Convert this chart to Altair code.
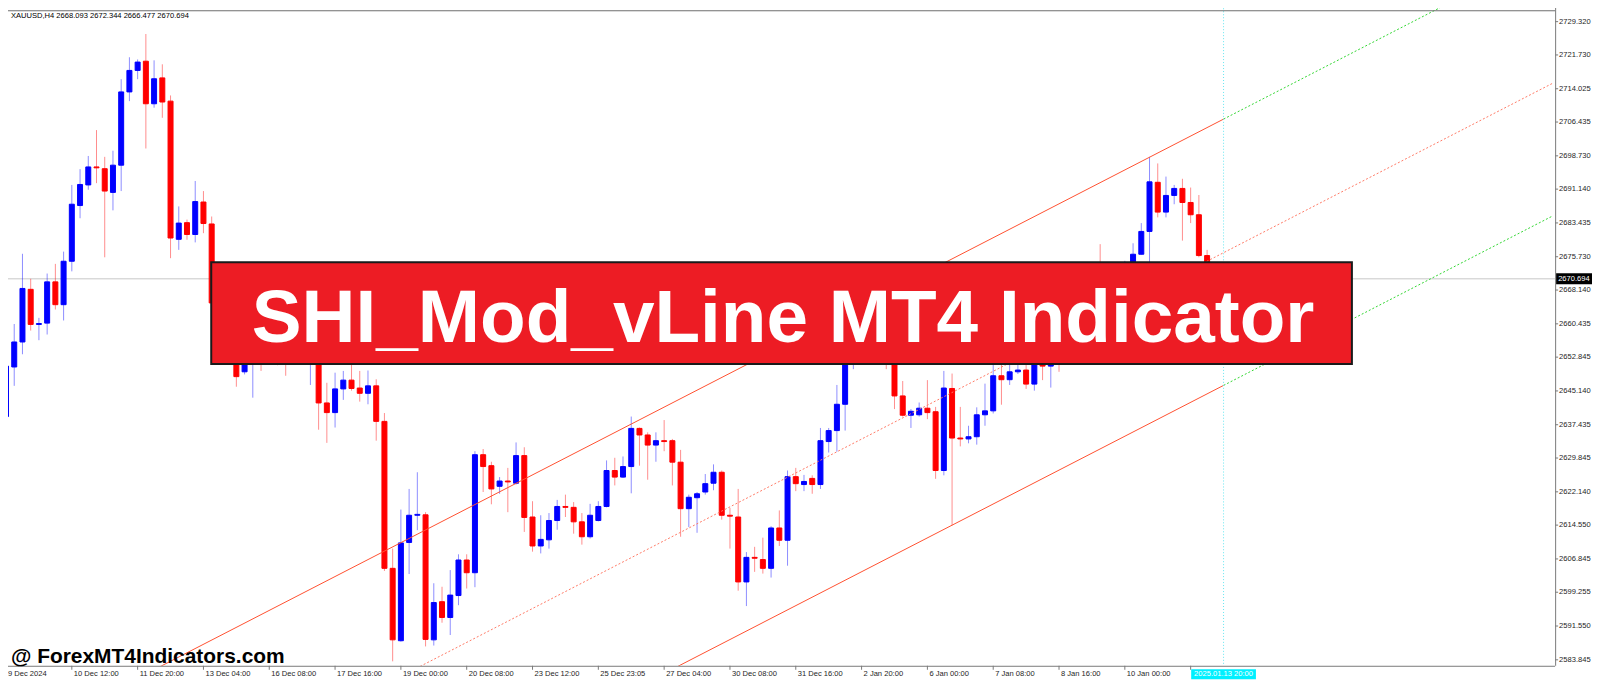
import altair as alt
import pandas as pd

# ---------------- data ----------------
opens = [2639.3, 2650.6, 2656.3, 2668.3, 2660.3, 2660.6, 2670.0, 2664.8, 2674.7, 2687.4,
         2692.1, 2696.2, 2695.8, 2690.4, 2696.6, 2713.3, 2718.2, 2720.3, 2710.6, 2716.5,
         2711.2, 2679.7, 2683.5, 2680.8, 2688.2, 2683.2, 2665.2, 2660.0, 2655.5, 2649.5,
         2653.5, 2657.0, 2654.0, 2656.5, 2655.0, 2653.0, 2656.0, 2654.5, 2657.0, 2642.4,
         2640.2, 2645.6, 2647.6, 2645.8, 2644.6, 2646.3, 2638.2, 2604.7, 2588.2, 2610.6,
         2616.8, 2616.9, 2588.4, 2597.1, 2593.5, 2598.5, 2606.6, 2603.7, 2630.6, 2628.1,
         2623.4, 2624.6, 2624.1, 2630.4, 2616.4, 2609.8, 2611.2, 2615.6, 2618.8, 2618.6,
         2615.3, 2611.9, 2615.6, 2618.8, 2627.0, 2625.5, 2627.9, 2636.6, 2635.1, 2632.8,
         2633.8, 2633.8, 2628.9, 2618.3, 2620.8, 2622.1, 2624.1, 2626.6, 2616.8, 2616.4,
         2601.6, 2607.2, 2606.7, 2604.7, 2613.9, 2611.1, 2625.6, 2623.8, 2625.2, 2623.8,
         2633.6, 2636.1, 2642.1, 2656.0, 2660.5, 2658.0, 2663.5, 2661.0, 2656.5, 2644.0,
         2639.6, 2639.7, 2641.2, 2640.4, 2627.0, 2645.7, 2634.4, 2634.2, 2634.7, 2639.7,
         2640.6, 2648.6, 2647.7, 2649.5, 2649.9, 2646.7, 2654.5, 2650.8, 2656.0, 2653.0,
         2658.5, 2662.0, 2659.0, 2664.0, 2661.0, 2665.0, 2668.5, 2672.0, 2676.3, 2681.5,
         2692.7, 2685.9, 2689.7, 2691.3, 2688.1, 2685.3, 2676.0, 2668.093]
highs = [2652.0, 2660.4, 2676.4, 2670.7, 2661.8, 2671.9, 2674.1, 2676.9, 2692.1, 2695.7,
         2698.7, 2704.6, 2698.5, 2699.9, 2716.2, 2721.2, 2720.7, 2726.5, 2720.5, 2719.6,
         2712.5, 2687.2, 2684.2, 2693.0, 2690.7, 2684.9, 2667.0, 2662.0, 2657.0, 2656.0,
         2659.5, 2660.0, 2658.0, 2660.0, 2657.0, 2658.0, 2658.5, 2660.0, 2659.0, 2647.0,
         2649.3, 2649.7, 2651.3, 2649.7, 2649.8, 2647.8, 2640.1, 2609.2, 2618.1, 2622.8,
         2626.6, 2617.5, 2601.3, 2600.5, 2604.3, 2607.9, 2607.9, 2631.4, 2631.9, 2629.0,
         2625.5, 2627.6, 2633.4, 2632.3, 2620.0, 2616.8, 2617.3, 2620.3, 2621.5, 2619.8,
         2617.3, 2619.4, 2620.0, 2629.3, 2629.9, 2630.2, 2639.3, 2636.8, 2635.7, 2635.7,
         2638.5, 2634.2, 2631.7, 2621.5, 2622.1, 2626.2, 2628.4, 2627.0, 2618.5, 2622.8,
         2608.4, 2609.6, 2611.7, 2614.3, 2617.9, 2627.0, 2627.6, 2626.0, 2625.9, 2636.7,
         2636.7, 2646.5, 2658.5, 2663.0, 2664.5, 2666.0, 2667.5, 2663.0, 2658.0, 2647.4,
         2641.0, 2642.5, 2647.6, 2641.5, 2649.7, 2649.1, 2641.5, 2637.2, 2641.4, 2646.8,
         2652.0, 2652.3, 2652.0, 2651.8, 2652.2, 2656.5, 2657.0, 2658.0, 2659.0, 2661.0,
         2664.5, 2665.0, 2667.0, 2678.6, 2668.0, 2671.0, 2674.8, 2678.8, 2683.4, 2698.5,
         2697.0, 2694.0, 2692.1, 2693.5, 2691.5, 2689.8, 2677.3, 2672.344]
lows = [2637.5, 2646.3, 2653.5, 2658.9, 2656.7, 2658.0, 2663.7, 2661.2, 2672.4, 2684.5,
        2691.0, 2692.5, 2675.6, 2686.3, 2690.7, 2711.2, 2716.2, 2700.4, 2709.7, 2707.4,
        2675.4, 2677.3, 2679.6, 2679.0, 2681.1, 2664.5, 2658.0, 2653.0, 2646.1, 2648.9,
        2643.6, 2649.7, 2652.5, 2651.0, 2648.6, 2652.0, 2652.5, 2646.5, 2636.3, 2633.3,
        2636.8, 2643.1, 2645.2, 2642.7, 2642.1, 2633.8, 2604.1, 2583.5, 2588.0, 2603.4,
        2613.4, 2586.9, 2587.1, 2592.3, 2589.5, 2596.3, 2600.1, 2600.4, 2622.1, 2619.3,
        2621.7, 2617.5, 2623.8, 2613.0, 2608.5, 2608.1, 2609.2, 2613.5, 2616.4, 2612.6,
        2610.1, 2611.5, 2615.4, 2618.6, 2623.6, 2625.3, 2621.8, 2628.1, 2624.9, 2629.0,
        2631.4, 2623.6, 2611.9, 2614.1, 2612.8, 2621.5, 2622.5, 2615.8, 2609.2, 2599.6,
        2596.1, 2603.9, 2603.5, 2602.6, 2609.8, 2605.3, 2622.3, 2622.3, 2621.7, 2622.8,
        2631.1, 2631.3, 2636.1, 2650.1, 2655.5, 2656.5, 2659.0, 2650.1, 2641.0, 2639.3,
        2636.7, 2639.3, 2638.7, 2625.1, 2625.9, 2614.5, 2632.5, 2633.2, 2632.9, 2637.2,
        2640.0, 2642.0, 2646.5, 2649.0, 2645.6, 2645.2, 2647.6, 2645.9, 2649.5, 2652.0,
        2656.5, 2657.0, 2658.0, 2659.0, 2659.5, 2663.0, 2667.0, 2670.5, 2676.2, 2673.0,
        2684.7, 2684.7, 2687.7, 2679.4, 2683.4, 2675.6, 2667.0, 2666.477]
closes = [2650.8, 2656.3, 2668.5, 2660.3, 2660.5, 2670.0, 2664.8, 2674.7, 2687.7, 2692.2,
          2696.2, 2696.0, 2690.7, 2696.6, 2713.3, 2718.2, 2720.1, 2710.6, 2716.3, 2711.0,
          2680.0, 2683.4, 2680.8, 2688.3, 2683.3, 2665.2, 2660.0, 2655.5, 2648.4, 2653.5,
          2657.0, 2654.0, 2656.5, 2655.0, 2653.0, 2656.0, 2654.5, 2657.0, 2642.4, 2640.2,
          2645.6, 2647.6, 2645.7, 2644.6, 2646.3, 2638.2, 2604.7, 2588.4, 2610.5, 2616.8,
          2617.0, 2588.5, 2596.9, 2593.5, 2598.6, 2606.6, 2603.7, 2630.6, 2627.9, 2622.8,
          2624.6, 2624.4, 2630.4, 2616.3, 2609.8, 2611.3, 2615.6, 2618.8, 2618.6, 2615.3,
          2611.9, 2616.8, 2618.8, 2627.0, 2625.5, 2627.9, 2636.6, 2635.1, 2632.8, 2633.8,
          2633.6, 2628.9, 2618.3, 2620.9, 2621.7, 2624.0, 2626.6, 2616.8, 2616.6, 2601.6,
          2607.2, 2607.0, 2604.7, 2613.9, 2611.1, 2625.6, 2624.0, 2624.5, 2623.8, 2633.8,
          2636.1, 2642.1, 2656.0, 2660.5, 2658.0, 2663.5, 2661.0, 2656.5, 2644.0, 2639.6,
          2640.5, 2641.2, 2640.2, 2627.0, 2645.8, 2634.4, 2634.2, 2634.7, 2639.7, 2640.6,
          2648.6, 2647.7, 2649.5, 2649.9, 2646.7, 2654.5, 2650.8, 2656.0, 2653.0, 2658.5,
          2662.0, 2659.0, 2664.0, 2661.0, 2665.0, 2668.5, 2672.0, 2676.3, 2681.5, 2692.8,
          2685.9, 2689.7, 2691.3, 2688.1, 2685.3, 2676.0, 2668.1, 2670.694]
bars = list(range(len(opens)))

y_tick_values = [2729.320, 2721.730, 2714.025, 2706.435, 2698.730, 2691.140, 2683.435,
                 2675.730, 2668.140, 2660.435, 2652.845, 2645.140, 2637.435, 2629.845,
                 2622.140, 2614.550, 2606.845, 2599.255, 2591.550, 2583.845]
x_tick_bars = [0, 8, 16, 24, 32, 40, 48, 56, 64, 72, 80, 88, 96, 104, 112, 120, 128, 136, 144]
x_tick_labels = ["9 Dec 2024", "10 Dec 12:00", "11 Dec 20:00", "13 Dec 04:00", "16 Dec 08:00",
                 "17 Dec 16:00", "19 Dec 00:00", "20 Dec 08:00", "23 Dec 12:00", "25 Dec 23:05",
                 "27 Dec 04:00", "30 Dec 08:00", "31 Dec 16:00", "2 Jan 20:00", "6 Jan 00:00",
                 "7 Jan 08:00", "8 Jan 16:00", "10 Jan 00:00", ""]

current_price = 2670.694
vline_bar = 148
vline_label = "2025.01.13 20:00"
header_text = "XAUUSD,H4  2668.093 2672.344 2666.477 2670.694"
banner_text = "SHI_Mod_vLine MT4 Indicator"
watermark_text = "@ ForexMT4Indicators.com"

# channel segments (bar, price)
seg_names = ["upper", "upper_ext", "middle", "lower", "lower_ext"]
seg_style = ["solid", "green", "dotted", "solid", "green"]
seg_bar_start = [10, 148, 40, 75, 148]
seg_bar_end = [148, 188, 188, 148, 188]
seg_price_start = [2573.87, 2707.10, 2572.37, 2575.92, 2646.40]
seg_price_end = [2707.10, 2745.72, 2715.27, 2646.40, 2685.02]

# ---------------- layout ----------------
W, H = 1560, 666
FONT = "Liberation Sans"
AX_FS = 7.6
AX_COL = "#7a7a7a"
LBL_COL = "#1e1e1e"

candles = pd.DataFrame({"bar": bars, "open": opens, "high": highs, "low": lows, "close": closes})
candles["dir"] = ["up" if c >= o else "down" for o, c in zip(opens, closes)]
candles["lo"] = candles[["open", "close"]].min(axis=1)
candles["hi"] = candles[["open", "close"]].max(axis=1)

rows = []
for n, s, b0, b1, p0, p1 in zip(seg_names, seg_style, seg_bar_start, seg_bar_end,
                                seg_price_start, seg_price_end):
    rows.append({"seg": n, "style": s, "bar": b0, "price": p0})
    rows.append({"seg": n, "style": s, "bar": b1, "price": p1})
lines = pd.DataFrame(rows)

one = pd.DataFrame({"price": [current_price], "bar": [vline_bar]})
xticks = pd.DataFrame({"bar": x_tick_bars, "label": x_tick_labels})
yticks = pd.DataFrame({"price": y_tick_values})

xs = alt.Scale(domain=[0, 187.7], nice=False, zero=False)
ys = alt.Scale(domain=[2733.73 - H / 4.4035, 2733.73], nice=False, zero=False)
cscale = alt.Scale(domain=["up", "down"], range=["#0000FF", "#FF0000"])

X = lambda f="bar": alt.X(f + ":Q", scale=xs, axis=None)
Y = lambda f="price": alt.Y(f + ":Q", scale=ys, axis=None)

price_line = alt.Chart(one).mark_rule(color="#C8C8C8", strokeWidth=1).encode(y=Y())

wicks = alt.Chart(candles).mark_rule(strokeWidth=1, opacity=0.45, clip=True).encode(
    x=X(), y=Y("low"), y2="high:Q",
    color=alt.Color("dir:N", scale=cscale, legend=None))

bodies = alt.Chart(candles).mark_bar(size=5, strokeWidth=1, clip=True).encode(
    x=X(), y=Y("lo"), y2="hi:Q",
    color=alt.Color("dir:N", scale=cscale, legend=None),
    stroke=alt.Stroke("dir:N", scale=cscale, legend=None))

def seg_layer(style, color, dash=None):
    kw = dict(color=color, strokeWidth=1, clip=True)
    if dash:
        kw["strokeDash"] = dash
    return alt.Chart(lines).transform_filter(alt.datum.style == style).mark_line(**kw).encode(
        x=X(), y=Y(), detail="seg:N")

solid_lines = seg_layer("solid", "#FF5030")
mid_line = seg_layer("dotted", "#FF7A66", [2, 2])
green_lines = seg_layer("green", "#33D633", [2, 2])

vline = alt.Chart(one).mark_rule(color="#66E6F0", strokeDash=[1, 2], strokeWidth=1).encode(x=X())

# ---- hand-drawn MT4 style axes ----
x_domain = alt.Chart(one).mark_rule(color=AX_COL, strokeWidth=1).encode(
    x=alt.value(0), x2=alt.value(W), y=alt.value(H + 0.5))
y_domain = alt.Chart(one).mark_rule(color=AX_COL, strokeWidth=1).encode(
    x=alt.value(W + 0.5), y=alt.value(0), y2=alt.value(H))
top_border = alt.Chart(one).mark_rule(color="#6e6e6e", strokeWidth=1).encode(
    x=alt.value(0), x2=alt.value(W), y=alt.value(8.5))
x_tick_marks = alt.Chart(xticks).mark_rule(color=AX_COL, strokeWidth=1).encode(
    x=X(), y=alt.value(H), y2=alt.value(H + 4))
x_tick_text = alt.Chart(xticks).mark_text(align="left", baseline="top", dx=2, color=LBL_COL,
                                          font=FONT, fontSize=AX_FS).encode(
    x=X(), y=alt.value(H + 4), text="label:N")
y_tick_marks = alt.Chart(yticks).mark_rule(color=AX_COL, strokeWidth=1).encode(
    y=Y(), x=alt.value(W), x2=alt.value(W + 3))
y_tick_text = alt.Chart(yticks).mark_text(align="left", baseline="middle", color=LBL_COL,
                                          font=FONT, fontSize=AX_FS).encode(
    y=Y(), x=alt.value(W + 4), text=alt.Text("price:Q", format=".3f"))

price_box = alt.Chart(one).mark_tick(orient="horizontal", size=36, thickness=11, color="black",
                                     opacity=1).encode(y=Y(), x=alt.value(W + 19))
price_txt = alt.Chart(one).mark_text(align="left", baseline="middle", color="white",
                                     font=FONT, fontSize=AX_FS).encode(
    y=Y(), x=alt.value(W + 3), text=alt.Text("price:Q", format=".3f"))

time_box = alt.Chart(one).mark_tick(orient="vertical", size=10, thickness=65, color="#00F0FF",
                                    opacity=1).encode(x=X(), y=alt.value(H + 8.5))
time_txt = alt.Chart(one).mark_text(align="center", baseline="middle", color="white",
                                    font=FONT, fontSize=AX_FS).encode(
    x=X(), y=alt.value(H + 8.5), text=alt.value(vline_label))

header = alt.Chart(one).mark_text(align="left", baseline="middle", color="black", font=FONT,
                                  fontSize=AX_FS).encode(
    x=alt.value(10), y=alt.value(14), text=alt.value(header_text))

banner = alt.Chart(one).mark_rect(fill="#ED1C24", stroke="#1A1A1A", strokeWidth=2).encode(
    x=alt.value(211), x2=alt.value(1356), y=alt.value(261), y2=alt.value(363))
banner_txt = alt.Chart(one).mark_text(align="center", baseline="alphabetic", color="white",
                                      font=FONT, fontWeight="bold", fontSize=75).encode(
    x=alt.value(785), y=alt.value(341), text=alt.value(banner_text))

watermark = alt.Chart(one).mark_text(align="left", baseline="alphabetic", color="black",
                                     font=FONT, fontWeight="bold", fontSize=21).encode(
    x=alt.value(10), y=alt.value(H - 3), text=alt.value(watermark_text))

chart = alt.layer(
    price_line, wicks, bodies, solid_lines, mid_line, green_lines, vline,
    x_domain, y_domain, top_border, x_tick_marks, x_tick_text, y_tick_marks, y_tick_text,
    price_box, price_txt, time_box, time_txt, header, banner, banner_txt, watermark
).properties(
    width=W, height=H,
    padding={"left": -8, "top": -8, "right": 0, "bottom": 0},
    background="white",
).configure_view(stroke=None)

chart.save("out.html", embed_options={"renderer": "svg", "actions": False})
